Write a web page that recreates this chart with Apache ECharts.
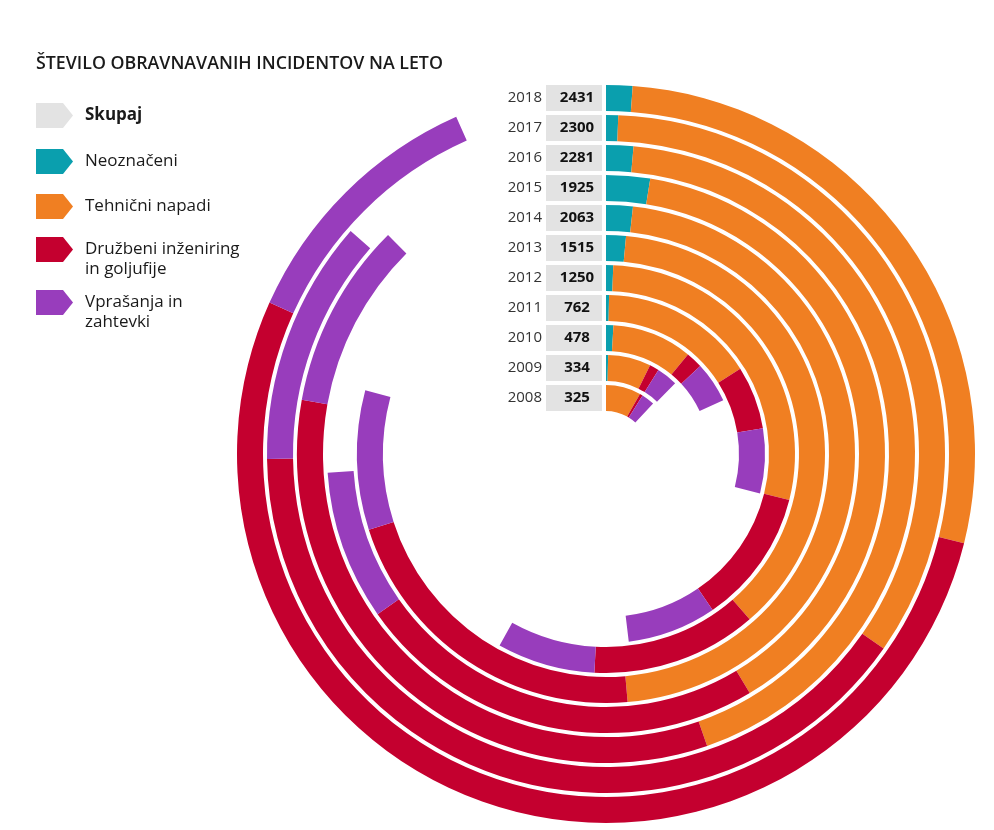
<!DOCTYPE html>
<html><head><meta charset="utf-8">
<script src="https://cdn.jsdelivr.net/npm/echarts@6/dist/echarts.min.js"></script>
<style>html,body{margin:0;padding:0;background:#fff}#c{width:994px;height:830px}</style>
</head><body><div id="c"></div>
<script>
const years = ['2008','2009','2010','2011','2012','2013','2014','2015','2016','2017','2018'];
const totals = [325,334,478,762,1250,1515,2063,1925,2281,2300,2431];
const neoznaceni = [0,9,24,8,16,38,45,66,37,15,30];
const tehnicni = [213,182,261,408,736,966,1219,1010,1125,888,721];
const druzbeni = [18,40,54,167,300,318,558,621,861,1041,1374];
const vprasanja = [80,89,133,171,198,188,235,225,253,303,302];
const seriesNames = ['Neoznačeni','Tehnični napadi','Družbeni inženiring\nin goljufije','Vprašanja in\nzahtevki'];
const legendNames = ['Skupaj'].concat(seriesNames);
const titleText = 'ŠTEVILO OBRAVNAVANIH INCIDENTOV NA LETO';

const colors = ['#0a9fae','#f07f22','#c4002f','#983dbc'];
const legendColors = ['#e3e3e3'].concat(colors);
const seriesData = [neoznaceni, tehnicni, druzbeni, vprasanja];
const FONT = '"Open Sans", sans-serif';

const chart = echarts.init(document.getElementById('c'), null, {renderer:'canvas'});

const legendY = [115.5, 161.5, 206.5, 249.5, 302.5];
const graphics = [{
  type:'text', left:36, top:55,
  style:{text:titleText, font:'600 17.8px "Open Sans", sans-serif', fill:'#1a1a1a'}
}];
legendNames.forEach((n,i)=>{
  graphics.push({type:'polygon', x:36, y:legendY[i]-12.5,
    shape:{points:[[0,0],[27,0],[37,12.5],[27,25],[0,25]]}, style:{fill:legendColors[i]}});
  graphics.push({type:'text', x:85, y:legendY[i]-10.5,
    style:{text:n, font:(i===0?'bold ':'')+'17px "Open Sans", sans-serif', fill:'#1a1a1a',
      lineHeight:20, verticalAlign:'top'}});
});

chart.setOption({
  animation:false,
  graphic:graphics,
  polar:{center:[606,454], radius:[41,371]},
  angleAxis:{type:'value', min:0, max:2600, startAngle:90, clockwise:true, show:false},
  radiusAxis:{type:'category', data:years,
    axisLine:{show:false}, axisTick:{show:false}, splitLine:{show:false},
    axisLabel:{show:true, interval:0, margin:4, hideOverlap:false,
      formatter:(v,i)=>'{y|'+v+'}{v|'+totals[i]+'}',
      rich:{
        y:{fontFamily:FONT, fontSize:15, color:'#333', padding:[0,4,0,0]},
        v:{fontFamily:FONT, fontSize:15, fontWeight:'bold', color:'#111', backgroundColor:'#e3e3e3',
           width:50, height:26, lineHeight:26, padding:[0,0,0,6], align:'left'}
      }}
  },
  series: seriesNames.map((n,k)=>({
    type:'bar', coordinateSystem:'polar', name:n, stack:'total',
    data:seriesData[k], barCategoryGap:'13.3%',
    itemStyle:{color:colors[k]}, silent:true
  }))
});
</script></body></html>
